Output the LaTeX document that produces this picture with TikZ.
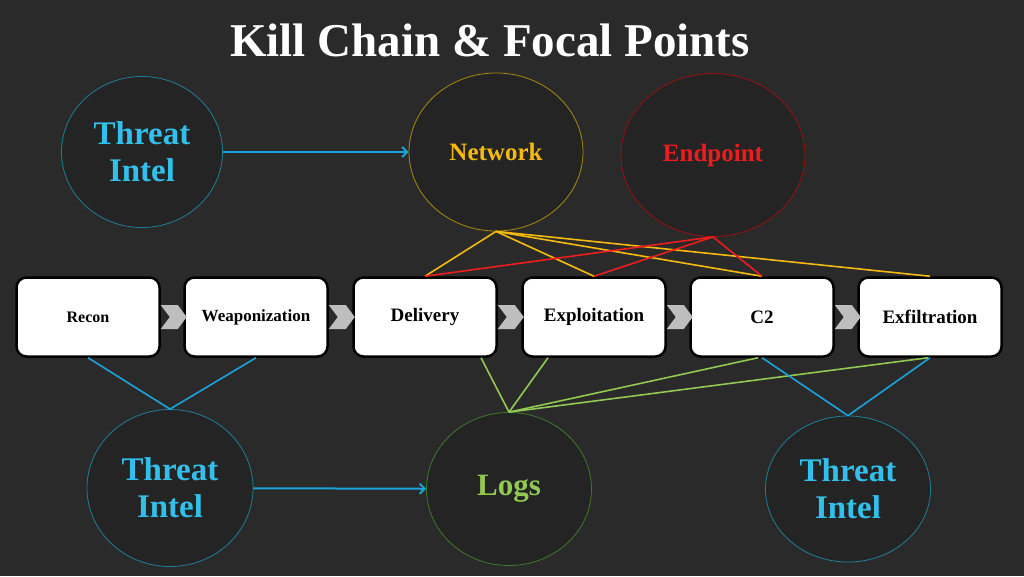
\documentclass[tikz,border=0pt]{standalone}
\usepackage{fontspec}
\setmainfont{Liberation Serif}
\usetikzlibrary{shapes.geometric,calc,arrows.meta}

\definecolor{bgdark}{HTML}{2A2A2A}
\definecolor{circfill}{HTML}{242424}
\definecolor{tiblue}{HTML}{33BFEB}
\definecolor{lineblue}{HTML}{1BA3DD}
\definecolor{tiedge}{HTML}{1F7F99}
\definecolor{netyellow}{HTML}{F5BA10}
\definecolor{netedge}{HTML}{A88A10}
\definecolor{epred}{HTML}{EE1C1C}
\definecolor{epedge}{HTML}{9A1010}
\definecolor{loggreen}{HTML}{92C953}
\definecolor{logedge}{HTML}{3E7A2A}
\definecolor{chevgray}{HTML}{BEBEBE}

\begin{document}
\begin{tikzpicture}[x=1pt,y=-1pt,
    focal/.style={ellipse,inner sep=0pt,fill=circfill,draw,line width=0.8pt,
      font=\bfseries,align=center},
    stage/.style={rectangle,rounded corners=10pt,fill=white,draw=black,
      line width=2.5pt,minimum width=143pt,minimum height=79pt,
      font=\bfseries\fontsize{19}{22}\selectfont},
    link/.style={line width=1.6pt},
    feed/.style={line width=2pt,draw=lineblue,-{Straight Barb[length=5pt,width=10pt]}}]

  % Background and title
  \fill[bgdark] (0,0) rectangle (1024,576);
  \node[text=white,font=\bfseries\fontsize{47}{52}\selectfont] (title) at (490,40)
    {Kill Chain \& Focal Points};

  % Focal points on top
  \node[focal,draw=tiedge,text=tiblue,minimum width=161pt,minimum height=151pt,
    font=\bfseries\fontsize{33}{37}\selectfont] (intelA) at (142,152) {Threat\\Intel};
  \node[focal,draw=netedge,text=netyellow,minimum width=174pt,minimum height=158pt,
    font=\bfseries\fontsize{25}{28}\selectfont] (network) at (496,152) {Network};
  \node[focal,draw=epedge,text=epred,minimum width=184pt,minimum height=163pt,
    font=\bfseries\fontsize{25}{28}\selectfont] (endpoint) at (713,155) {Endpoint};

  % The kill chain stages
  \node[stage,font=\bfseries\fontsize{16}{19}\selectfont] (recon) at (88,317) {Recon};
  \node[stage,font=\bfseries\fontsize{17}{20}\selectfont] (weapon) at (256,317) {Weaponization};
  \node[stage] (delivery) at (425,317) {Delivery};
  \node[stage] (exploit) at (594,317) {Exploitation};
  \node[stage] (ctwo) at (762,317) {C2};
  \node[stage] (exfil) at (930,317) {Exfiltration};

  % Chevrons between the stages
  \foreach \a/\b in {recon/weapon,weapon/delivery,delivery/exploit,exploit/ctwo,ctwo/exfil} {
    \fill[chevgray] ($(\a.east)+(0,-12)$) -- ++(17,0) -- ++(9,12) -- ++(-9,12)
      -- ++(-17,0) -- ++(9,-12) -- cycle;
  }

  % Focal points below
  \node[focal,draw=tiedge,text=tiblue,minimum width=166pt,minimum height=157pt,
    font=\bfseries\fontsize{33}{37}\selectfont] (intelB) at (170,488) {Threat\\Intel};
  \node[focal,draw=logedge,text=loggreen,minimum width=165pt,minimum height=153pt,
    font=\bfseries\fontsize{31}{34}\selectfont] (logs) at (509,489) {Logs};
  \node[focal,draw=tiedge,text=tiblue,minimum width=165pt,minimum height=146pt,
    font=\bfseries\fontsize{33}{37}\selectfont] (intelC) at (848,489) {Threat\\Intel};

  % Intel feeds
  \draw[feed] (intelA) -- (network);
  \draw[feed] (intelB) -- (logs);

  % Network and endpoint coverage
  \foreach \s in {delivery,exploit,ctwo,exfil}
    \draw[link,netyellow] (network.south) -- (\s.north);
  \foreach \s in {delivery,exploit,ctwo}
    \draw[link,epred] (endpoint.south) -- (\s.north);

  % Log coverage
  \draw[link,loggreen] (logs.north) -- ([xshift=56pt]delivery.south);
  \draw[link,loggreen] (logs.north) -- ([xshift=-46pt]exploit.south);
  \draw[link,loggreen] (logs.north) -- ([xshift=-4pt]ctwo.south);
  \draw[link,loggreen] (logs.north) -- ([xshift=-2pt]exfil.south);

  % Threat intel coverage
  \draw[link,lineblue] (intelB.north) -- (recon.south);
  \draw[link,lineblue] (intelB.north) -- (weapon.south);
  \draw[link,lineblue] (intelC.north) -- (ctwo.south);
  \draw[link,lineblue] (intelC.north) -- (exfil.south);
\end{tikzpicture}
\end{document}
